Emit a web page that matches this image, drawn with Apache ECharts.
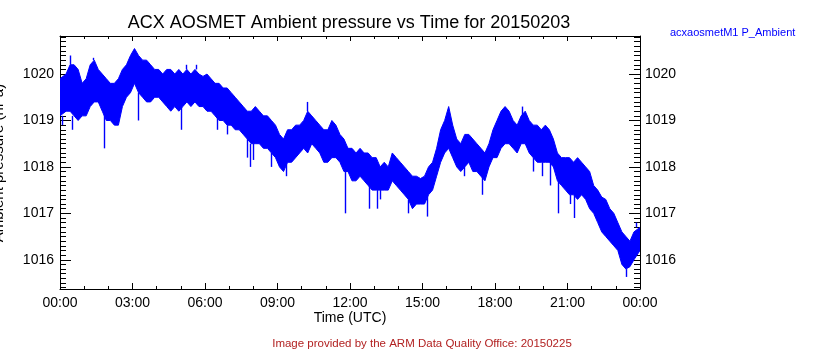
<!DOCTYPE html>
<html><head><meta charset="utf-8">
<script src="https://cdn.jsdelivr.net/npm/echarts@6/dist/echarts.min.js"></script>
<style>html,body{margin:0;padding:0;background:#fff}#c{width:840px;height:350px}</style>
</head><body><div id="c"></div>
<script>
// 10-minute bins starting at 00:00 UTC; envelope of P_Ambient (hPa)
const binMinutes = 10;
const bandHigh = [
  1019.9, 1020.0, 1020.2, 1020.2, 1020.1, 1019.8,
  1019.9, 1020.2, 1020.3, 1020.1, 1020.0, 1019.9,
  1019.8, 1019.8, 1019.9, 1020.1, 1020.2, 1020.4,
  1020.55, 1020.4, 1020.3, 1020.3, 1020.2, 1020.1,
  1020.1, 1020.0, 1020.1, 1020.1, 1020.0, 1020.1,
  1020.0, 1020.1, 1020.0, 1020.1, 1020.0, 1019.95,
  1020.0, 1019.9, 1019.8, 1019.8, 1019.7, 1019.7,
  1019.6, 1019.5, 1019.4, 1019.3, 1019.2, 1019.2,
  1019.3, 1019.2, 1019.1, 1019.1, 1019.0, 1018.9,
  1018.7, 1018.6, 1018.8, 1018.8, 1018.9, 1018.9,
  1019.0, 1019.2, 1019.1, 1019.0, 1018.9, 1018.8,
  1018.8, 1019.0, 1018.9, 1018.7, 1018.6, 1018.4,
  1018.4, 1018.3, 1018.4, 1018.3, 1018.3, 1018.2,
  1018.2, 1018.0, 1018.1, 1018.0, 1018.3, 1018.2,
  1018.1, 1018.0, 1017.9, 1017.8, 1017.8, 1017.75,
  1017.8, 1018.0, 1018.1, 1018.4, 1018.8, 1019.0,
  1019.3, 1018.9, 1018.6, 1018.5, 1018.7, 1018.7,
  1018.6, 1018.5, 1018.4, 1018.3, 1018.5, 1018.8,
  1019.0, 1019.2, 1019.3, 1019.2, 1019.0, 1018.9,
  1019.1, 1019.2, 1019.0, 1018.9, 1018.9, 1018.8,
  1018.9, 1018.8, 1018.6, 1018.3, 1018.2, 1018.2,
  1018.2, 1018.1, 1018.2, 1018.1, 1018.0, 1017.9,
  1017.6, 1017.5, 1017.35, 1017.3, 1017.1, 1017.0,
  1016.8, 1016.6, 1016.5, 1016.4, 1016.6, 1016.7
];
const bandLow = [
  1019.1, 1019.2, 1019.2, 1019.1, 1019.0, 1019.1,
  1019.1, 1019.3, 1019.4, 1019.4, 1019.2, 1019.0,
  1019.0, 1018.9, 1018.9, 1019.3, 1019.5, 1019.6,
  1019.8, 1019.6, 1019.5, 1019.4, 1019.4, 1019.5,
  1019.5, 1019.4, 1019.3, 1019.2, 1019.3, 1019.2,
  1019.3, 1019.4, 1019.3, 1019.4, 1019.3, 1019.3,
  1019.2, 1019.2, 1019.1, 1019.0, 1019.0, 1018.9,
  1018.9, 1018.8, 1018.8, 1018.7, 1018.6, 1018.5,
  1018.5, 1018.5, 1018.4, 1018.4, 1018.3, 1018.2,
  1018.0, 1017.9, 1018.1, 1018.1, 1018.2, 1018.3,
  1018.4, 1018.3, 1018.5, 1018.4, 1018.3, 1018.1,
  1018.1, 1018.2, 1018.2, 1018.1, 1017.9, 1017.9,
  1017.7, 1017.7, 1017.8, 1017.7, 1017.6, 1017.5,
  1017.5, 1017.5, 1017.5, 1017.5, 1017.7, 1017.6,
  1017.5, 1017.4, 1017.3, 1017.1, 1017.2, 1017.2,
  1017.2, 1017.4, 1017.5, 1017.8, 1018.1, 1018.3,
  1018.4, 1018.2, 1018.0, 1017.9, 1018.0, 1018.1,
  1017.9, 1017.9, 1017.8, 1017.7, 1018.0, 1018.2,
  1018.2, 1018.4, 1018.5, 1018.5, 1018.4, 1018.3,
  1018.5, 1018.5, 1018.3, 1018.2, 1018.1, 1018.1,
  1018.1, 1018.1, 1018.0, 1017.7, 1017.6, 1017.5,
  1017.4, 1017.4, 1017.3, 1017.4, 1017.3, 1017.1,
  1017.0, 1016.8, 1016.6, 1016.5, 1016.4, 1016.3,
  1016.2, 1015.9, 1015.8, 1015.85, 1016.0, 1016.2
];
// isolated spikes: hour UTC and hPa
const spikeHours  = [0.08, 0.43, 0.51, 1.35, 1.82, 3.23, 5.0, 5.2, 5.63, 6.48, 6.9, 7.75, 7.86, 8.0, 8.1, 8.75, 9.35, 10.2, 11.81, 12.78, 13.1, 13.25, 14.4, 15.2, 16.7, 17.45, 19.1, 19.57, 19.94, 20.27, 20.6, 21.1, 21.25, 23.4, 23.85];
const spikeValues = [1018.9, 1020.4, 1018.8, 1020.35, 1018.4, 1019.0, 1018.8, 1020.2, 1020.2, 1018.8, 1018.7, 1018.2, 1018.0, 1018.15, 1019.3, 1018.0, 1017.8, 1019.4, 1017.0, 1017.1, 1017.1, 1017.3, 1017.0, 1016.93, 1017.8, 1017.4, 1019.3, 1017.9, 1017.8, 1017.6, 1017.0, 1017.2, 1016.9, 1015.63, 1016.8];

const xTickHours = [0, 3, 6, 9, 12, 15, 18, 21, 24];
const yMajorTicks = [1016, 1017, 1018, 1019, 1020];
const yMin = 1015.37, yMax = 1020.82;

const yMinorTicks = [];
for (let k = 10154; k <= 10208; k++) { if (k % 10 !== 0) yMinorTicks.push(k / 10); }

const binH = binMinutes / 60;
const bandData = bandLow.map((lo, i) => [i * binH, lo, bandHigh[i]]);
const spikeData = spikeHours.map((t, i) => {
  const b = Math.min(bandLow.length - 1, Math.floor(t / binH));
  const v = spikeValues[i];
  const anchor = v < bandLow[b] ? bandLow[b] : (v > bandHigh[b] ? bandHigh[b] : v);
  return [t, v, anchor];
});

const FONT = '"Liberation Sans", Arial, sans-serif';
const BLUE = '#0000ff';

function pad(n) { return (n < 10 ? '0' : '') + n; }

const chart = echarts.init(document.getElementById('c'), null, { renderer: 'canvas' });

const xCommon = {
  type: 'value', min: 0, max: 24, interval: 3,
  axisLine: { show: true, onZero: false, lineStyle: { color: '#000', width: 1 } },
  splitLine: { show: false }, minorSplitLine: { show: false }
};
const yCommon = {
  type: 'value', min: yMin, max: yMax,
  splitLine: { show: false }, minorSplitLine: { show: false }
};
const yLabelFmt = function (v) { return String(Math.round(v)); };

chart.setOption({
  animation: false,
  backgroundColor: '#fff',
  grid: { left: 60, right: 200, top: 36, bottom: 61, containLabel: false },
  xAxis: [
    Object.assign({}, xCommon, {
      position: 'bottom',
      axisTick: { show: true, inside: true, length: 6, lineStyle: { color: '#000' } },
      minorTick: { show: true, splitNumber: 3, length: 3, lineStyle: { color: '#000' } },
      axisLabel: {
        show: true, margin: 7, fontFamily: FONT, fontSize: 14, color: '#000',
        formatter: function (v) { return pad(Math.round(v) % 24) + ':00'; }
      }
    }),
    Object.assign({}, xCommon, {
      position: 'top',
      axisTick: { show: true, inside: true, length: 5, lineStyle: { color: '#000' } },
      minorTick: { show: true, splitNumber: 3, length: 3, lineStyle: { color: '#000' } },
      axisLabel: { show: false }
    })
  ],
  yAxis: [
    Object.assign({}, yCommon, {
      position: 'left',
      axisLine: { show: true, onZero: false, lineStyle: { color: '#000', width: 1 } },
      axisTick: { show: true, inside: true, length: 11, customValues: yMajorTicks, lineStyle: { color: '#000' } },
      axisLabel: { show: true, customValues: yMajorTicks, formatter: yLabelFmt, margin: 6, fontFamily: FONT, fontSize: 14, color: '#000' }
    }),
    Object.assign({}, yCommon, {
      position: 'left',
      axisLine: { show: false, onZero: false },
      axisTick: { show: true, inside: true, length: 6, customValues: yMinorTicks, lineStyle: { color: '#000' } },
      axisLabel: { show: false }
    }),
    Object.assign({}, yCommon, {
      position: 'right',
      axisLine: { show: true, onZero: false, lineStyle: { color: '#000', width: 1 } },
      axisTick: { show: true, inside: true, length: 11, customValues: yMajorTicks, lineStyle: { color: '#000' } },
      axisLabel: { show: true, customValues: yMajorTicks, formatter: yLabelFmt, margin: 5, fontFamily: FONT, fontSize: 14, color: '#000' }
    }),
    Object.assign({}, yCommon, {
      position: 'right',
      axisLine: { show: false, onZero: false },
      axisTick: { show: true, inside: true, length: 6, customValues: yMinorTicks, lineStyle: { color: '#000' } },
      axisLabel: { show: false }
    })
  ],
  series: [
    {
      type: 'custom', name: 'acxaosmetM1 P_Ambient',
      xAxisIndex: 0, yAxisIndex: 0, clip: true,
      encode: { x: 0, y: [1, 2] },
      data: bandData,
      renderItem: function (params, api) {
        if (params.dataIndex !== 0) return null;
        const n = bandData.length;
        const top = [], bot = [];
        for (let i = 0; i < n; i++) {
          const d = bandData[i];
          const tc = i === 0 ? 0 : (i === n - 1 ? 24 : d[0] + binH / 2);
          top.push(api.coord([tc, d[2]]));
          bot.push(api.coord([tc, d[1]]));
        }
        const pts = top.concat(bot.reverse());
        return {
          type: 'polygon',
          shape: { points: pts },
          style: { fill: BLUE, stroke: BLUE, lineWidth: 1 }
        };
      }
    },
    {
      type: 'custom', name: 'spikes',
      xAxisIndex: 0, yAxisIndex: 0, clip: true,
      encode: { x: 0, y: [1, 2] },
      data: spikeData,
      renderItem: function (params, api) {
        const p = api.coord([api.value(0), api.value(1)]);
        const q = api.coord([api.value(0), api.value(2)]);
        const x = Math.round(p[0]) + 0.5;
        return {
          type: 'line',
          shape: { x1: x, y1: p[1], x2: x, y2: q[1] },
          style: { stroke: BLUE, lineWidth: 1.4 }
        };
      }
    }
  ],
  graphic: [
    { type: 'text', x: 349, y: 23, style: { text: 'ACX AOSMET Ambient pressure vs Time for 20150203', font: '18px ' + FONT, fill: '#000', textAlign: 'center', textVerticalAlign: 'middle' } },
    { type: 'text', x: 670, y: 32.5, style: { text: 'acxaosmetM1 P_Ambient', font: '11px ' + FONT, fill: BLUE, textAlign: 'left', textVerticalAlign: 'middle' } },
    { type: 'text', x: -1, y: 163, rotation: Math.PI / 2, style: { text: 'Ambient pressure (hPa)', font: '15px ' + FONT, fill: '#000', textAlign: 'center', textVerticalAlign: 'middle' } },
    { type: 'text', x: 350, y: 318.5, style: { text: 'Time (UTC)', font: '14px ' + FONT, fill: '#000', textAlign: 'center', textVerticalAlign: 'middle' } },
    { type: 'text', x: 422, y: 344, style: { text: 'Image provided by the ARM Data Quality Office: 20150225', font: '11.5px ' + FONT, fill: '#b22222', textAlign: 'center', textVerticalAlign: 'middle' } }
  ]
});
</script>
</body></html>
